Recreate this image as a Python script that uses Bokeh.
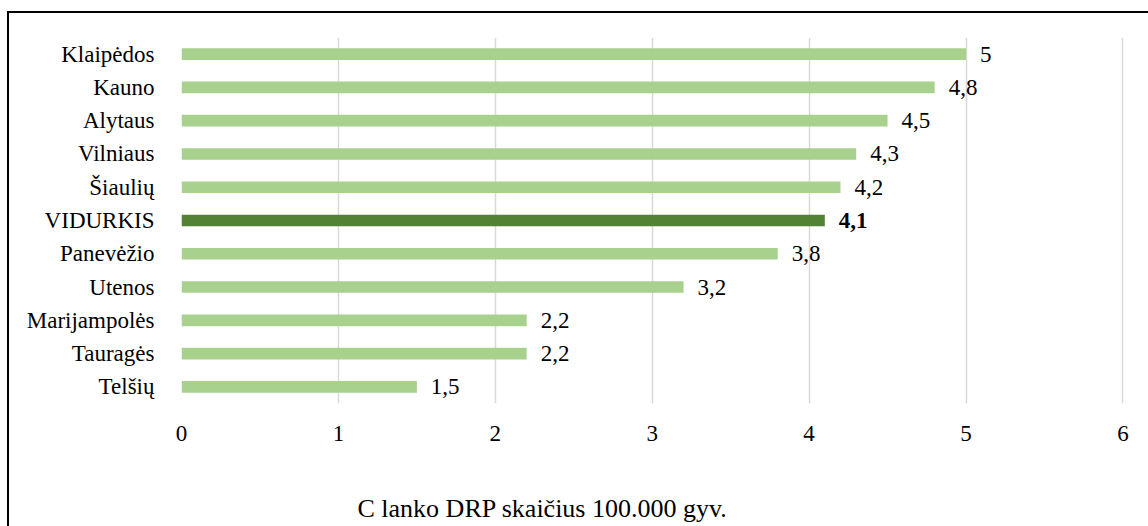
from bokeh.plotting import figure
from bokeh.models import ColumnDataSource, FixedTicker, Range1d, FactorRange, Title
from bokeh.embed import file_html
from bokeh.resources import INLINE

# Regions, ordered top to bottom as drawn
regions = ["Klaipėdos", "Kauno", "Alytaus", "Vilniaus", "Šiaulių", "VIDURKIS",
           "Panevėžio", "Utenos", "Marijampolės", "Tauragės", "Telšių"]
values = [5.0, 4.8, 4.5, 4.3, 4.2, 4.1, 3.8, 3.2, 2.2, 2.2, 1.5]
average_name = "VIDURKIS"
x_ticks = [0, 1, 2, 3, 4, 5, 6]
axis_title = "C lanko DRP skaičius 100.000 gyv."

LIGHT = "#A9D18E"
DARK = "#548235"
FONT = "Liberation Serif"

labels = [f"{v:g}".replace(".", ",") for v in values]
colors = [DARK if r == average_name else LIGHT for r in regions]
styles = ["bold" if r == average_name else "normal" for r in regions]

source = ColumnDataSource(dict(region=regions, value=values, label=labels,
                               color=colors, style=styles))

p = figure(width=1148, height=526, output_backend="svg", toolbar_location=None,
           y_range=FactorRange(factors=list(reversed(regions))),
           x_range=Range1d(0, 6.01),
           min_border_left=181, min_border_right=24,
           min_border_top=37, min_border_bottom=123)
p.outline_line_color = None
p.background_fill_color = "white"
p.border_fill_color = None
# white page with a thin black frame line along the top and left edges
p.styles = {
    "background-color": "white",
    "background-image": "linear-gradient(#000, #000), linear-gradient(#000, #000)",
    "background-size": "2px 100%, 100% 2px",
    "background-position": "7px 11px, 7px 11px",
    "background-repeat": "no-repeat",
}

p.hbar(y="region", right="value", left=0, height=0.35, color="color",
       line_color=None, source=source)

p.text(x="value", y="region", text="label", source=source,
       x_offset=14, text_align="left", text_baseline="middle",
       text_font=FONT, text_font_size="23px", text_font_style="style",
       text_color="black")

# axes
p.xaxis.ticker = FixedTicker(ticks=x_ticks)
for ax in (p.xaxis[0], p.yaxis[0]):
    ax.axis_line_color = None
    ax.major_tick_line_color = None
    ax.minor_tick_line_color = None
    ax.major_label_text_font = FONT
    ax.major_label_text_font_size = "23px"
    ax.major_label_text_color = "black"
p.xaxis.major_label_standoff = 16
p.yaxis.major_label_standoff = 21

p.ygrid.grid_line_color = None
p.xgrid.grid_line_color = "#D9D9D9"
p.xgrid.grid_line_width = 1.5

# axis title under the tick labels
p.add_layout(Title(text=axis_title, align="left", offset=176, standoff=0,
                   padding=dict(left=0, right=0, top=48, bottom=0),
                   text_font=FONT, text_font_size="26px",
                   text_font_style="normal", text_color="black"), "below")

open("out.html", "w").write(file_html(p, INLINE))
